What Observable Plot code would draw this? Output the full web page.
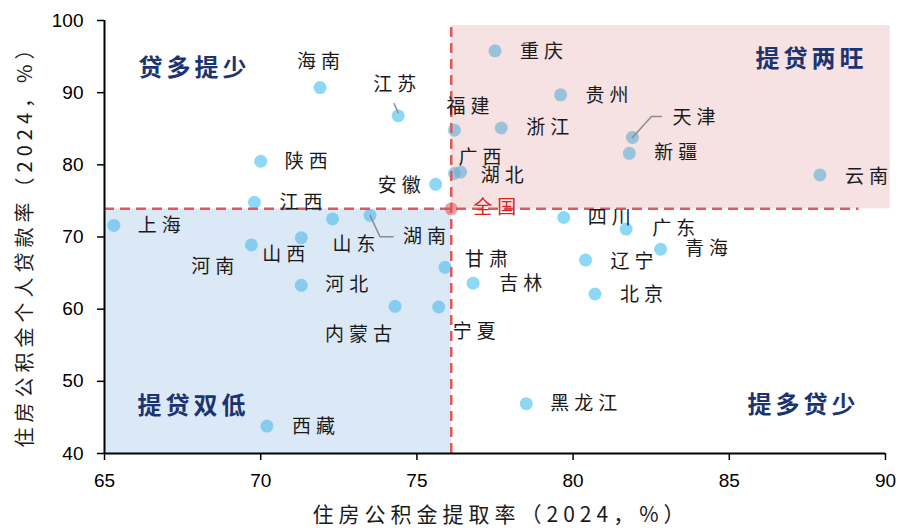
<!DOCTYPE html>
<html>
<head>
<meta charset="utf-8">
<script src="https://cdn.jsdelivr.net/npm/d3@7"></script>
<script src="https://cdn.jsdelivr.net/npm/@observablehq/plot@0.6"></script>
<style>
  body { margin: 0; background: #fff; }
  .prov-label text { letter-spacing: 5px; }
  .quad-label text { letter-spacing: 4px; }
  .axis-title text { letter-spacing: 5px; }
</style>
</head>
<body>
<div id="chart"></div>
<script>
// Housing provident fund: withdrawal rate vs. personal loan rate by province, 2024 (%)
const provinces = ["海南", "江苏", "陕西", "江西", "安徽", "上海", "山东", "山西", "湖南", "河南",
  "甘肃", "河北", "内蒙古", "宁夏", "西藏", "重庆", "贵州", "福建", "浙江", "天津",
  "新疆", "广西", "湖北", "云南", "四川", "广东", "青海", "辽宁", "吉林", "北京", "黑龙江"];
const withdrawalRate = [71.9, 74.4, 70.0, 69.8, 75.6, 65.3, 72.3, 71.3, 73.5, 69.7,
  75.9, 71.3, 74.3, 75.7, 70.2, 77.5, 79.6, 76.2, 77.7, 81.9,
  81.8, 76.2, 76.4, 87.9, 79.7, 81.7, 82.8, 80.4, 76.8, 80.7, 78.5];
const loanRate = [90.7, 86.8, 80.5, 74.8, 77.3, 71.6, 72.5, 69.9, 73.0, 68.9,
  65.8, 63.3, 60.4, 60.3, 43.8, 95.8, 89.7, 84.8, 85.1, 83.8,
  81.6, 78.8, 79.0, 78.6, 72.7, 71.1, 68.3, 66.8, 63.6, 62.1, 46.9];

const nationalName = "全国";
const nationalWithdrawal = 76.1;
const nationalLoan = 73.9;

const quadrantNames = ["贷多提少", "提贷两旺", "提贷双低", "提多贷少"];
const xTicks = [65, 70, 75, 80, 85, 90];
const yTicks = [40, 50, 60, 70, 80, 90, 100];
const xTitle = "住房公积金提取率（2024，%）";
const yTitle = "住房公积金个人贷款率（2024，%）";

// ---- layout ----
const W = 898, H = 530;
const margin = {top: 20, right: 13, bottom: 77, left: 104};
const xDomain = [65, 90], yDomain = [40, 100];
// data units per screen pixel, used to place labels at pixel offsets from their dots
const kx = (xDomain[1] - xDomain[0]) / (W - margin.left - margin.right);
const ky = (yDomain[1] - yDomain[0]) / (H - margin.top - margin.bottom);

// label start position relative to the dot, in pixels [dx, dy]
const labelOffset = {
  "海南": [-23, -26], "江苏": [-25, -31], "陕西": [24, 1], "江西": [25, 1], "安徽": [-58, 1.5],
  "上海": [24, 0], "山东": [0, 26], "山西": [-39, 17], "湖南": [33, 21.5], "河南": [-60, 22],
  "甘肃": [20, -7], "河北": [24, 0], "内蒙古": [-70, 29], "宁夏": [14, 25], "西藏": [25, 1],
  "重庆": [25, 1], "贵州": [25, 1], "福建": [-8, -23.5], "浙江": [25, 0], "天津": [40, -19.5],
  "新疆": [25, 0], "广西": [4, -16], "湖北": [20, 4], "云南": [25, 2], "四川": [24, 0],
  "广东": [26, 0], "青海": [24.5, 0], "辽宁": [25, 1.5], "吉林": [26, 1], "北京": [25, 1],
  "黑龙江": [24, 0]
};
const nationalOffset = [22, -1];
// leader polylines, pixel offsets from the dot
const leaderOffsets = {
  "江苏": [[-4, -12], [0, -3]],
  "湖南": [[0, 0], [10, 21.5], [23, 21.5]],
  "天津": [[0, 0], [19, -21], [29, -21]]
};
const quadrantPlacement = [
  {frameAnchor: "top-left", textAnchor: "start", dx: 34, dy: 47.5},
  {frameAnchor: "top-right", textAnchor: "end", dx: -18, dy: 38.5},
  {frameAnchor: "bottom-left", textAnchor: "start", dx: 33, dy: -47.5},
  {frameAnchor: "bottom-right", textAnchor: "end", dx: -26, dy: -48}
];
const shadeTop = 99.3, shadeRight = 90.15, hLineEnd = 89.15;

const cjk = "'Noto Sans CJK SC', sans-serif";
const latin = "'Liberation Sans', Arial, sans-serif";

const rows = provinces.map((name, i) => ({name, x: withdrawalRate[i], y: loanRate[i]}));

const leaderPts = [];
for (const [name, pts] of Object.entries(leaderOffsets)) {
  const r = rows.find(d => d.name === name);
  for (const [ox, oy] of pts) leaderPts.push({name, x: r.x + ox * kx, y: r.y - oy * ky});
}

const dash = {stroke: "#dc5a5f", strokeWidth: 2.5, strokeDasharray: "10,6"};

const chart = Plot.plot({
  width: W,
  height: H,
  marginTop: margin.top,
  marginRight: margin.right,
  marginBottom: margin.bottom,
  marginLeft: margin.left,
  style: {background: "#fff", fontFamily: latin},
  x: {domain: xDomain},
  y: {domain: yDomain},
  marks: [
    Plot.dot(rows, {x: "x", y: "y", r: 6.5, fill: "rgb(80,195,240)", fillOpacity: 0.65}),
    // quadrant shading relative to the national values
    Plot.rect([0], {x1: xDomain[0], x2: nationalWithdrawal, y1: yDomain[0], y2: nationalLoan,
      fill: "rgb(111,167,219)", fillOpacity: 0.25}),
    Plot.rect([0], {x1: nationalWithdrawal, x2: shadeRight, y1: nationalLoan, y2: shadeTop,
      fill: "rgb(210,110,110)", fillOpacity: 0.2}),
    Plot.dot([0], {x: nationalWithdrawal, y: nationalLoan, r: 6.5, fill: "#d9454a", fillOpacity: 0.5}),
    Plot.ruleX([nationalWithdrawal], {y1: yDomain[0], y2: shadeTop, ...dash}),
    Plot.ruleY([nationalLoan], {x1: xDomain[0], x2: hLineEnd, ...dash}),
    // axes
    Plot.axisX(xTicks, {tickSize: 7, tickPadding: 13, strokeWidth: 1.5, fontSize: 19, fontFamily: latin, fill: "#000", label: null}),
    Plot.axisY(yTicks, {tickSize: 7, tickPadding: 14, strokeWidth: 1.5, fontSize: 19, fontFamily: latin, fill: "#000", label: null}),
    Plot.ruleX([xDomain[0]], {stroke: "#000", strokeWidth: 2}),
    Plot.ruleY([yDomain[0]], {stroke: "#000", strokeWidth: 2}),
    // leaders and labels
    Plot.line(leaderPts, {x: "x", y: "y", z: "name", stroke: "#8c8c8c", strokeWidth: 1.5}),
    Plot.text(rows, {
      x: d => d.x + labelOffset[d.name][0] * kx,
      y: d => d.y - labelOffset[d.name][1] * ky,
      text: "name", textAnchor: "start", fontSize: 19, fontFamily: cjk, fill: "#1a1a1a",
      className: "prov-label"
    }),
    Plot.text([nationalName], {
      x: () => nationalWithdrawal + nationalOffset[0] * kx,
      y: () => nationalLoan - nationalOffset[1] * ky,
      text: d => d, textAnchor: "start", fontSize: 19, fontFamily: cjk, fill: "#dd2222",
      className: "prov-label"
    }),
    ...quadrantNames.map((name, i) => Plot.text([name], {
      text: d => d, ...quadrantPlacement[i], lineAnchor: "middle", fontSize: 24, fontWeight: "bold",
      fontFamily: cjk, fill: "#1b3470", className: "quad-label"
    })),
    Plot.text([xTitle], {text: d => d, frameAnchor: "bottom", textAnchor: "middle", lineAnchor: "middle",
      dx: 6, dy: 62, fontSize: 21, fontFamily: cjk, fill: "#1a1a1a", className: "axis-title"}),
    Plot.text([yTitle], {text: d => d, frameAnchor: "left", textAnchor: "middle", lineAnchor: "middle",
      dx: -79, dy: 4, rotate: -90, fontSize: 20, fontFamily: cjk, fill: "#1a1a1a", className: "axis-title"})
  ]
});

document.getElementById("chart").appendChild(chart);
</script>
</body>
</html>
